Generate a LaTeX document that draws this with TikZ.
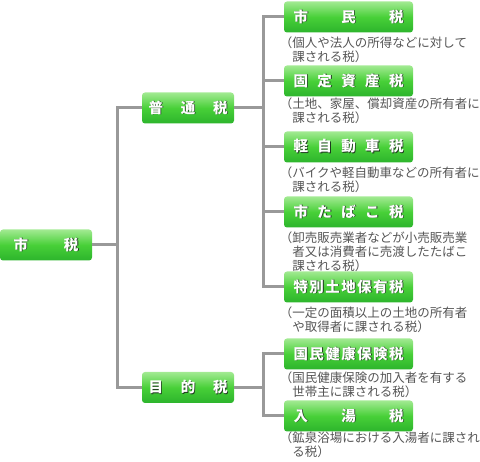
\documentclass[tikz,border=0pt]{standalone}
\usepackage{fontspec}
\newfontfamily\jp{Noto Sans CJK JP}
\usetikzlibrary{calc}
\definecolor{linec}{HTML}{999999}
\definecolor{desc}{HTML}{555555}
\definecolor{gtop}{HTML}{A2EA92}
\definecolor{gmid}{HTML}{48D038}
\definecolor{gbot}{HTML}{2CB42C}
\definecolor{shc}{HTML}{1E3A1E}
\newcommand{\shch}[1]{\makebox[0pt][l]{\kern0.9pt\raisebox{-0.9pt}{\textcolor{shc}{#1}}}\textcolor{white}{#1}}
\tikzset{
  gbox/.style={rounded corners=3pt, inner sep=0pt, minimum height=31pt,
    top color=gtop, bottom color=gbot, middle color=gmid,
    font=\jp\bfseries\fontsize{14.5}{16}\selectfont},
  rootbox/.style={gbox, minimum width=92pt},
  midbox/.style={gbox, minimum width=92pt},
  leafbox/.style={gbox, minimum width=129pt},
  conn/.style={draw=linec, line width=3pt},
  desctext/.style={anchor=base west, inner sep=0pt, align=left, text=desc,
    font=\jp\fontsize{12.5}{14}\selectfont}
}
\newcommand{\po}{\hbox to 0.5em{\hss（}}
\newcommand{\ind}{\hspace*{0.5em}}
\begin{document}
\begin{tikzpicture}[x=1pt,y=-1pt]
\useasboundingbox (0,0) rectangle (480,462);
% boxes
\node[rootbox] (root) at (46,245) {\makebox[65pt][s]{\shch{市}\hfill\shch{税}}};
\node[midbox] (futsu) at (188,108) {\makebox[79pt][s]{\shch{普}\hfill\shch{通}\hfill\shch{税}}};
\node[midbox] (moku) at (188,387.5) {\makebox[79pt][s]{\shch{目}\hfill\shch{的}\hfill\shch{税}}};
\node[leafbox] (c1) at (348.5,17) {\makebox[110pt][s]{\shch{市}\hfill\shch{民}\hfill\shch{税}}};
\node[leafbox] (c2) at (348.5,81) {\makebox[110pt][s]{\shch{固}\hfill\shch{定}\hfill\shch{資}\hfill\shch{産}\hfill\shch{税}}};
\node[leafbox] (c3) at (348.5,147) {\makebox[110pt][s]{\shch{軽}\hfill\shch{自}\hfill\shch{動}\hfill\shch{車}\hfill\shch{税}}};
\node[leafbox] (c4) at (348.5,212) {\makebox[110pt][s]{\shch{市}\hfill\shch{た}\hfill\shch{ば}\hfill\shch{こ}\hfill\shch{税}}};
\node[leafbox] (c5) at (348.5,287) {\makebox[110pt][s]{\shch{特}\hfill\shch{別}\hfill\shch{土}\hfill\shch{地}\hfill\shch{保}\hfill\shch{有}\hfill\shch{税}}};
\node[leafbox] (c6) at (348.5,354) {\makebox[110pt][s]{\shch{国}\hfill\shch{民}\hfill\shch{健}\hfill\shch{康}\hfill\shch{保}\hfill\shch{険}\hfill\shch{税}}};
\node[leafbox] (c7) at (348.5,416) {\makebox[110pt][s]{\shch{入}\hfill\shch{湯}\hfill\shch{税}}};
% connectors
\coordinate (j1) at (117,245);
\coordinate (j2) at (263,108);
\coordinate (j3) at (263,387.5);
\draw[conn] (root.east) -- (j1);
\draw[conn] (futsu.west) -| (j1) |- (moku.west);
\draw[conn] (futsu.east) -- (j2);
\draw[conn] (c1.west) -| (j2) |- (c5.west);
\draw[conn] (c2.west) -- (c2.west -| j2);
\draw[conn] (c3.west) -- (c3.west -| j2);
\draw[conn] (c4.west) -- (c4.west -| j2);
\draw[conn] (moku.east) -- (j3);
\draw[conn] (c6.west) -| (j3) |- (c7.west);
% descriptions (base anchor = baseline of last line)
\node[desctext] (d1) at (286,61.5) {\po 個人や法人の所得などに対して\\\ind 課される税）};
\node[desctext] (d2) at (286,122.5) {\po 土地、家屋、償却資産の所有者に\\\ind 課される税）};
\node[desctext] (d3) at (286,191.5) {\po バイクや軽自動車などの所有者に\\\ind 課される税）};
\node[desctext] (d4) at (286,270.5) {\po 卸売販売業者などが小売販売業\\\ind 者又は消費者に売渡したたばこ\\\ind 課される税）};
\node[desctext] (d5) at (286,331.5) {\po 一定の面積以上の土地の所有者\\\ind や取得者に課される税）};
\node[desctext] (d6) at (286,396.5) {\po 国民健康保険の加入者を有する\\\ind 世帯主に課される税）};
\node[desctext] (d7) at (286,456.5) {\po 鉱泉浴場における入湯者に課され\\\ind る税）};
\end{tikzpicture}
\end{document}
